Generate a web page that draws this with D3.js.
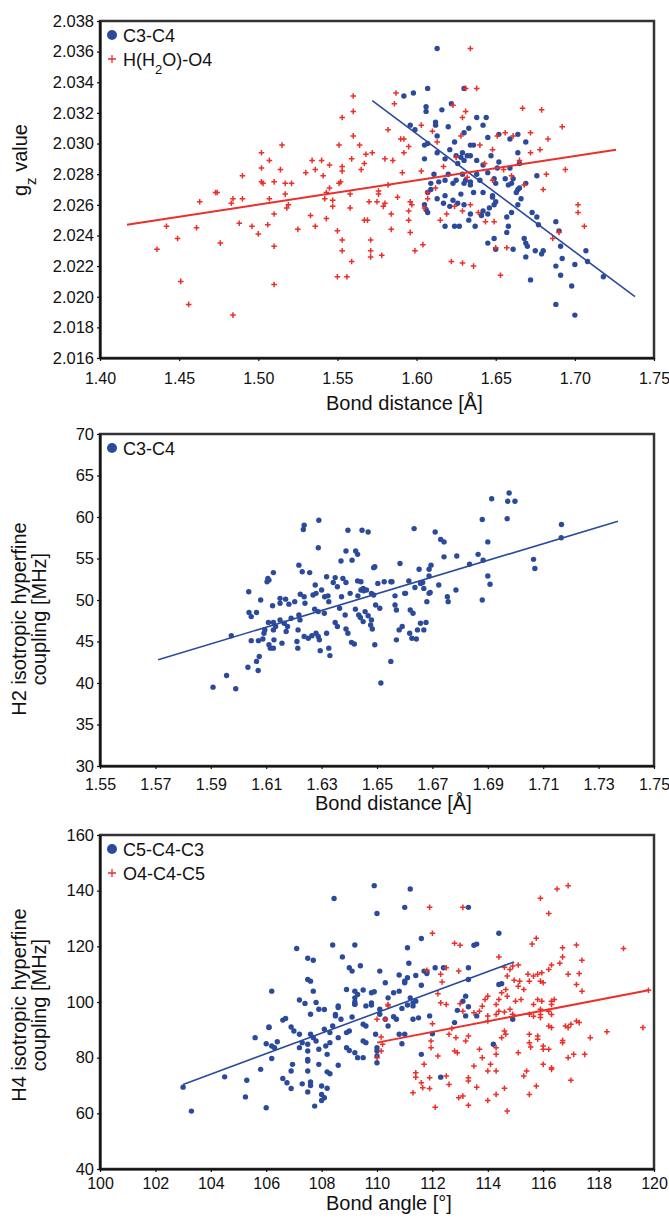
<!DOCTYPE html>
<html>
<head>
<meta charset="utf-8">
<script src="https://cdn.jsdelivr.net/npm/d3@7"></script>
<style>
  body { margin: 0; background: #fff; }
  text { font-family: Arial, "Liberation Sans", sans-serif; fill: #111; }
</style>
</head>
<body>
<div id="app"></div>
<script>
// ---- panel 1 : g_z value vs bond distance ----
const gzC3C4 = [[1.613,2.0362],[1.607,2.0336],[1.592,2.0331],[1.598,2.0333],[1.630,2.0336],[1.622,2.0326],[1.606,2.0324],[1.606,2.0321],[1.616,2.0322],[1.638,2.0317],[1.644,2.0317],[1.596,2.0312],[1.599,2.0309],[1.612,2.0314],[1.612,2.0312],[1.620,2.0311],[1.642,2.0312],[1.633,2.0310],[1.630,2.0307],[1.613,2.0305],[1.607,2.0300],[1.605,2.0299],[1.624,2.0301],[1.634,2.0299],[1.636,2.0299],[1.645,2.0304],[1.652,2.0306],[1.659,2.0303],[1.664,2.0306],[1.669,2.0301],[1.664,2.0294],[1.621,2.0296],[1.629,2.0294],[1.625,2.0292],[1.628,2.0291],[1.632,2.0292],[1.630,2.0289],[1.626,2.0287],[1.613,2.0294],[1.605,2.0290],[1.618,2.0290],[1.634,2.0292],[1.638,2.0289],[1.647,2.0292],[1.652,2.0288],[1.651,2.0284],[1.642,2.0286],[1.659,2.0284],[1.665,2.0287],[1.676,2.0279],[1.611,2.0280],[1.620,2.0280],[1.629,2.0280],[1.638,2.0280],[1.645,2.0281],[1.625,2.0276],[1.618,2.0276],[1.631,2.0276],[1.634,2.0273],[1.640,2.0276],[1.649,2.0277],[1.656,2.0277],[1.661,2.0277],[1.660,2.0274],[1.664,2.0270],[1.609,2.0270],[1.607,2.0268],[1.618,2.0266],[1.628,2.0267],[1.636,2.0268],[1.642,2.0268],[1.648,2.0266],[1.609,2.0274],[1.614,2.0275],[1.623,2.0274],[1.630,2.0274],[1.634,2.0275],[1.650,2.0274],[1.658,2.0273],[1.665,2.0271],[1.669,2.0274],[1.605,2.0260],[1.606,2.0257],[1.607,2.0255],[1.613,2.0264],[1.617,2.0261],[1.621,2.0259],[1.623,2.0263],[1.626,2.0261],[1.630,2.0260],[1.618,2.0246],[1.624,2.0246],[1.627,2.0246],[1.633,2.0250],[1.634,2.0254],[1.637,2.0246],[1.641,2.0253],[1.642,2.0256],[1.645,2.0254],[1.646,2.0258],[1.649,2.0260],[1.648,2.0265],[1.650,2.0262],[1.645,2.0235],[1.649,2.0238],[1.650,2.0231],[1.657,2.0252],[1.660,2.0255],[1.664,2.0260],[1.666,2.0264],[1.663,2.0268],[1.657,2.0242],[1.658,2.0246],[1.661,2.0231],[1.668,2.0238],[1.669,2.0235],[1.670,2.0233],[1.669,2.0226],[1.675,2.0230],[1.680,2.0230],[1.672,2.0211],[1.679,2.0228],[1.673,2.0255],[1.676,2.0252],[1.677,2.0247],[1.688,2.0220],[1.691,2.0214],[1.692,2.0225],[1.688,2.0249],[1.690,2.0243],[1.691,2.0233],[1.700,2.0221],[1.698,2.0207],[1.700,2.0188],[1.688,2.0195],[1.707,2.0230],[1.708,2.0223],[1.718,2.0213]];

const gzH2OO4 = [[1.634,2.0362],[1.587,2.0333],[1.560,2.0331],[1.631,2.0336],[1.638,2.0336],[1.586,2.0326],[1.560,2.0321],[1.623,2.0325],[1.667,2.0323],[1.679,2.0322],[1.631,2.0321],[1.553,2.0317],[1.629,2.0317],[1.692,2.0311],[1.582,2.0309],[1.603,2.0312],[1.560,2.0305],[1.590,2.0303],[1.592,2.0303],[1.651,2.0305],[1.683,2.0303],[1.672,2.0307],[1.656,2.0307],[1.661,2.0305],[1.515,2.0299],[1.551,2.0299],[1.564,2.0299],[1.595,2.0298],[1.613,2.0301],[1.502,2.0294],[1.568,2.0293],[1.572,2.0294],[1.592,2.0294],[1.672,2.0294],[1.678,2.0296],[1.507,2.0289],[1.534,2.0289],[1.540,2.0289],[1.559,2.0290],[1.567,2.0287],[1.580,2.0290],[1.585,2.0289],[1.545,2.0286],[1.553,2.0285],[1.536,2.0283],[1.514,2.0283],[1.502,2.0284],[1.694,2.0283],[1.490,2.0279],[1.591,2.0281],[1.565,2.0283],[1.553,2.0282],[1.530,2.0281],[1.541,2.0279],[1.603,2.0282],[1.682,2.0280],[1.503,2.0274],[1.510,2.0275],[1.517,2.0274],[1.521,2.0274],[1.552,2.0275],[1.582,2.0273],[1.576,2.0269],[1.474,2.0268],[1.610,2.0308],[1.628,2.0305],[1.640,2.0299],[1.648,2.0296],[1.625,2.0291],[1.643,2.0287],[1.655,2.0283],[1.665,2.0289],[1.660,2.0279],[1.617,2.0285],[1.632,2.0278],[1.648,2.0276],[1.612,2.0271],[1.668,2.0273],[1.680,2.0270],[1.622,2.0223],[1.629,2.0222],[1.636,2.0220],[1.653,2.0214],[1.650,2.0232],[1.657,2.0232],[1.702,2.0260],[1.702,2.0255],[1.706,2.0246],[1.686,2.0238],[1.690,2.0242],[1.6435,2.0249],[1.649,2.0249],[1.436,2.0231],[1.442,2.0246],[1.449,2.0238],[1.451,2.0210],[1.456,2.0195],[1.461,2.0245],[1.463,2.0262],[1.473,2.0268],[1.476,2.0235],[1.484,2.0188],[1.484,2.0264],[1.483,2.0261],[1.488,2.0248],[1.490,2.0264],[1.496,2.0246],[1.500,2.0241],[1.502,2.0275],[1.506,2.0247],[1.507,2.0264],[1.510,2.0233],[1.510,2.0208],[1.510,2.0254],[1.517,2.0267],[1.518,2.0258],[1.519,2.0260],[1.525,2.0244],[1.533,2.0253],[1.536,2.0246],[1.542,2.0264],[1.543,2.0268],[1.545,2.0271],[1.547,2.0263],[1.547,2.0259],[1.543,2.0251],[1.550,2.0243],[1.553,2.0237],[1.553,2.0230],[1.550,2.0213],[1.556,2.0213],[1.559,2.0223],[1.551,2.0274],[1.558,2.0267],[1.558,2.0258],[1.567,2.0250],[1.569,2.0250],[1.570,2.0262],[1.575,2.0262],[1.576,2.0267],[1.571,2.0237],[1.571,2.0230],[1.571,2.0226],[1.578,2.0227],[1.580,2.0261],[1.579,2.0259],[1.584,2.0254],[1.584,2.0244],[1.588,2.0265],[1.595,2.0256],[1.595,2.0250],[1.596,2.0242],[1.599,2.0230],[1.604,2.0234],[1.596,2.0262],[1.597,2.0260],[1.605,2.0258],[1.607,2.0264],[1.607,2.0268],[1.615,2.0250],[1.619,2.0254],[1.624,2.0259],[1.629,2.0256],[1.634,2.0260],[1.639,2.0255]];

const fitGzC3C4 = [[1.572,2.0328],[1.738,2.0200]];
const fitGzH2OO4 = [[1.417,2.0247],[1.726,2.0296]];
const gzTicks = [2.016,2.018,2.020,2.022,2.024,2.026,2.028,2.030,2.032,2.034,2.036,2.038];
const dist1Ticks = [1.40,1.45,1.50,1.55,1.60,1.65,1.70,1.75];

// ---- panel 2 : H2 isotropic hyperfine coupling vs bond distance ----
const h2C3C4 = [[1.6977,62.9],[1.6972,61.9],[1.6998,61.9],[1.6914,62.2],[1.697,59.8],[1.688,59.7],[1.7166,59.1],[1.7165,57.5],[1.6237,59.0],[1.6234,58.5],[1.629,59.6],[1.6395,58.4],[1.6446,58.4],[1.6468,58.2],[1.6634,58.6],[1.671,58.2],[1.673,57.3],[1.6742,57.0],[1.690,57.0],[1.6288,56.3],[1.6423,55.9],[1.643,55.5],[1.6388,55.9],[1.6788,55.3],[1.6742,55.2],[1.6865,55.5],[1.6883,54.8],[1.7065,54.9],[1.707,53.8],[1.690,52.9],[1.6908,51.9],[1.6218,54.2],[1.623,53.4],[1.6257,53.3],[1.6126,53.3],[1.6106,52.6],[1.611,52.4],[1.6318,52.8],[1.6349,52.7],[1.637,54.7],[1.641,54.8],[1.6492,54.0],[1.6488,53.9],[1.6583,54.4],[1.6652,53.7],[1.6688,53.7],[1.6695,54.2],[1.6834,54.3],[1.6688,52.9],[1.6277,51.8],[1.630,51.2],[1.6342,52.1],[1.6377,52.6],[1.643,52.3],[1.6442,51.2],[1.6452,51.1],[1.648,50.8],[1.6503,52.0],[1.655,52.2],[1.6615,52.3],[1.6637,51.5],[1.6665,52.1],[1.6692,50.9],[1.6723,51.8],[1.6785,51.2],[1.688,50.0],[1.6037,51.0],[1.6223,50.7],[1.6237,50.4],[1.6269,50.6],[1.6311,50.4],[1.6372,50.4],[1.615,50.2],[1.617,50.1],[1.6757,49.8],[1.6038,48.5],[1.6046,48.0],[1.6065,48.5],[1.6103,52.2],[1.608,50.0],[1.6123,49.3],[1.615,49.6],[1.6182,49.5],[1.6203,49.8],[1.624,49.6],[1.628,50.8],[1.6326,49.8],[1.6422,48.9],[1.6488,50.6],[1.6495,49.4],[1.651,49.0],[1.6565,50.5],[1.6565,49.4],[1.657,48.8],[1.660,50.8],[1.662,48.8],[1.663,48.4],[1.6657,52.0],[1.6669,51.4],[1.668,49.8],[1.6688,50.8],[1.6754,50.4],[1.6357,51.6],[1.6388,52.1],[1.6403,50.8],[1.6431,50.5],[1.6442,52.2],[1.645,51.4],[1.6462,51.2],[1.6526,52.2],[1.6554,52.2],[1.6603,50.8],[1.6323,50.5],[1.6108,47.3],[1.6126,47.3],[1.6072,45.1],[1.6088,45.3],[1.6095,46.4],[1.6092,46.0],[1.611,44.6],[1.6115,44.2],[1.6126,46.4],[1.6134,46.8],[1.6126,44.2],[1.6128,45.2],[1.615,47.6],[1.6165,47.2],[1.6157,44.8],[1.6172,46.2],[1.6177,46.8],[1.619,47.8],[1.6218,48.2],[1.6222,47.6],[1.6215,46.4],[1.6211,45.0],[1.6214,44.2],[1.6237,45.6],[1.6252,45.4],[1.6265,45.7],[1.628,46.0],[1.6288,45.6],[1.6292,45.2],[1.6295,43.9],[1.6275,48.9],[1.6288,48.6],[1.631,48.4],[1.6318,46.0],[1.6326,44.2],[1.633,43.3],[1.6349,47.3],[1.6357,46.8],[1.6365,49.0],[1.6385,48.2],[1.6408,44.9],[1.6418,44.7],[1.6388,46.5],[1.6395,46.0],[1.6434,48.2],[1.644,47.9],[1.645,47.4],[1.6457,48.6],[1.6468,48.1],[1.648,47.6],[1.6477,47.0],[1.6483,46.5],[1.6492,44.6],[1.6514,40.0],[1.655,42.6],[1.657,45.2],[1.658,46.4],[1.6591,46.8],[1.6618,46.0],[1.6626,45.4],[1.6642,45.3],[1.6646,46.4],[1.6657,47.2],[1.6669,46.4],[1.6677,47.3],[1.6034,41.9],[1.6065,42.6],[1.6071,41.5],[1.6075,43.2],[1.6046,45.1],[1.5974,45.7],[1.5908,39.5],[1.5957,40.9],[1.599,39.3]];

const fitH2C3C4 = [[1.571,42.8],[1.737,59.5]];
const h2Ticks = [30,35,40,45,50,55,60,65,70];
const dist2Ticks = [1.55,1.57,1.59,1.61,1.63,1.65,1.67,1.69,1.71,1.73,1.75];

// ---- panel 3 : H4 isotropic hyperfine coupling vs bond angle ----
const h4C5C4C3 = [[109.9,141.8],[111.2,140.6],[108.45,137.2],[111.0,134.0],[110.0,131.8],[113.3,134.0],[114.4,124.7],[107.1,119.2],[108.4,120.5],[109.2,120.5],[111.1,119.5],[111.6,122.8],[113.6,120.8],[113.5,120.4],[107.5,115.7],[107.7,115.0],[108.75,116.2],[111.15,113.9],[109.4,113.0],[109.0,112.3],[109.1,111.1],[110.1,111.1],[110.8,109.7],[111.1,108.7],[111.4,109.5],[111.7,111.1],[111.8,110.9],[111.8,110.2],[112.1,112.3],[112.4,112.3],[113.3,112.3],[113.3,108.1],[114.5,106.6],[107.5,108.1],[107.6,107.5],[107.7,103.9],[107.2,100.7],[107.4,99.5],[106.2,103.9],[108.1,97.3],[108.6,98.6],[108.5,95.5],[108.9,104.5],[109.2,103.9],[109.3,102.7],[109.2,101.5],[109.2,100.0],[109.2,99.2],[109.5,104.3],[109.8,103.3],[109.9,103.7],[109.8,99.7],[109.8,98.9],[110.3,106.9],[110.4,101.5],[110.6,103.3],[110.8,103.9],[111.0,106.9],[111.0,107.5],[111.2,101.5],[111.1,98.9],[111.3,99.7],[111.4,100.3],[111.6,106.0],[113.1,100.3],[113.2,102.1],[113.3,98.3],[114.4,106.3],[103.0,69.4],[103.3,60.8],[104.5,73.1],[105.3,71.9],[105.25,65.9],[105.6,87.2],[105.8,75.8],[106.0,62.0],[106.1,91.0],[106.1,90.8],[106.0,85.0],[106.2,84.2],[106.3,83.6],[106.2,79.7],[106.6,93.5],[106.7,94.1],[106.6,72.5],[106.75,71.0],[106.9,68.9],[106.9,91.0],[107.0,89.6],[107.2,88.4],[106.95,77.6],[106.9,75.2],[106.4,85.7],[107.2,83.6],[107.3,85.4],[107.5,82.4],[107.5,84.8],[107.5,79.4],[107.5,78.8],[107.5,75.2],[107.5,67.7],[107.6,71.3],[107.6,70.0],[107.75,62.6],[107.3,70.6],[107.6,88.4],[107.7,87.2],[107.8,86.0],[107.6,95.6],[107.8,99.8],[107.9,97.4],[107.9,77.6],[107.9,83.0],[108.0,69.8],[108.0,66.8],[108.1,65.6],[108.0,64.6],[108.2,74.9],[108.3,74.2],[108.2,69.0],[108.15,84.2],[108.3,85.4],[108.2,81.2],[108.1,90.2],[108.4,91.4],[108.3,89.0],[108.6,87.2],[108.6,77.3],[108.5,95.0],[108.6,98.0],[108.7,93.8],[108.9,89.0],[109.0,89.6],[108.9,83.6],[109.0,82.6],[109.2,81.8],[109.1,94.6],[109.2,99.2],[109.3,80.0],[109.5,80.0],[109.5,86.0],[109.6,85.4],[109.5,92.0],[109.6,91.4],[109.6,98.6],[109.95,88.4],[110.0,83.6],[110.0,82.4],[110.0,80.6],[110.0,78.2],[110.1,95.6],[110.1,97.4],[110.3,93.8],[110.4,91.4],[110.6,94.7],[110.7,93.8],[110.8,88.4],[111.0,88.4],[110.9,85.0],[110.9,97.7],[111.3,98.6],[111.3,93.8],[111.5,94.3],[111.9,95.0],[111.6,81.2],[112.0,88.6],[112.3,73.0],[112.9,97.0],[113.2,95.0],[112.8,92.6],[114.2,84.8],[114.9,93.8],[113.6,95.0]];

const h4O4C4C5 = [[116.5,140.6],[116.9,141.8],[115.9,137.3],[116.2,131.8],[111.9,134.0],[113.1,134.0],[112.0,124.7],[112.8,121.1],[113.0,120.4],[118.9,119.2],[115.6,120.8],[115.75,122.9],[116.7,119.5],[117.2,120.5],[117.4,115.0],[116.7,116.2],[114.4,116.2],[112.95,111.1],[112.5,112.3],[111.8,111.4],[112.3,110.0],[112.35,107.2],[114.6,112.5],[114.8,111.7],[114.9,112.9],[115.1,113.3],[114.7,109.3],[114.95,107.8],[115.15,107.5],[115.45,110.0],[115.65,109.3],[115.8,110.0],[115.95,110.5],[116.2,111.7],[115.9,107.5],[116.0,106.9],[116.3,113.3],[116.6,113.9],[116.9,110.0],[117.3,110.2],[117.2,106.3],[117.4,103.9],[115.1,105.7],[115.3,104.5],[115.5,107.5],[112.2,103.0],[112.3,99.7],[112.5,99.1],[113.0,99.4],[113.1,96.7],[113.5,96.1],[113.7,96.7],[113.8,98.5],[113.9,100.9],[114.0,102.1],[114.3,99.1],[114.4,100.9],[114.7,102.1],[115.0,100.3],[115.2,100.9],[114.3,95.5],[114.4,96.7],[114.6,96.4],[115.65,99.1],[115.8,100.9],[115.95,100.3],[116.3,100.3],[116.4,100.9],[116.3,99.1],[116.2,96.7],[114.5,103.3],[114.65,104.5],[115.65,94.9],[115.9,95.5],[116.3,95.5],[119.8,104.2],[110.4,99.1],[110.0,93.8],[110.3,93.8],[110.15,87.4],[110.2,84.8],[110.0,80.0],[110.15,82.4],[110.4,98.6],[111.4,74.6],[111.4,73.0],[111.3,67.4],[111.6,71.0],[111.65,69.2],[111.7,77.6],[112.0,92.2],[111.95,86.0],[111.95,83.6],[111.9,72.8],[111.9,68.9],[112.1,62.2],[112.2,80.6],[112.5,73.4],[112.6,70.4],[112.6,88.4],[112.7,90.5],[112.8,82.4],[112.9,81.8],[112.85,87.2],[112.95,65.6],[113.1,66.2],[113.3,62.9],[113.3,87.8],[113.2,86.0],[113.3,72.8],[113.3,71.6],[113.5,77.0],[113.6,69.4],[113.7,83.0],[113.8,80.0],[114.0,93.2],[114.0,95.0],[114.0,64.6],[114.1,77.6],[114.0,75.2],[114.3,83.6],[114.3,81.2],[114.3,66.8],[114.3,75.2],[114.6,89.6],[114.65,88.4],[114.5,87.2],[114.6,69.0],[114.7,60.8],[114.8,97.4],[114.9,95.6],[115.1,81.8],[115.3,73.4],[115.4,75.2],[115.5,88.4],[115.5,85.4],[115.55,83.8],[115.5,66.8],[115.8,87.8],[115.8,86.6],[115.75,69.8],[115.9,97.4],[115.9,94.4],[116.0,84.2],[116.0,83.0],[116.0,77.6],[116.2,91.4],[116.3,90.8],[116.2,83.0],[116.3,76.4],[116.3,75.8],[116.7,85.4],[116.7,86.2],[116.8,91.4],[116.9,90.8],[117.0,92.0],[117.2,93.2],[117.3,92.6],[116.9,80.0],[117.1,81.2],[117.0,71.9],[117.5,81.2],[117.7,87.2],[118.3,89.3],[119.6,90.8],[115.5,95.6]];

const fitH4C5C4C3 = [[103.0,70.4],[114.95,114.4]];
const fitH4O4C4C5 = [[110.0,85.4],[119.8,104.2]];
const h4Ticks = [40,60,80,100,120,140,160];
const angleTicks = [100,102,104,106,108,110,112,114,116,118,120];

const blue = '#2b4a9c';
const red = '#ec2f28';
const left = 100, right = 654;

const svg = d3.select('#app')
  .append('svg')
  .attr('width', 669)
  .attr('height', 1223);

const plus = 'M-2.8,0H2.8M0,-2.8V2.8';

function panel(o) {
  const x = d3.scaleLinear().domain(o.xDomain).range([left, right]);
  const y = d3.scaleLinear().domain(o.yDomain).range([o.bottom, o.top]);
  const g = svg.append('g');

  // frame (top/right)
  g.append('rect')
    .attr('x', left).attr('y', o.top)
    .attr('width', right - left).attr('height', o.bottom - o.top)
    .attr('fill', 'none').attr('stroke', '#333').attr('stroke-width', 2.5);

  const line = d3.line().x(d => x(d[0])).y(d => y(d[1]));

  o.series.forEach(s => {
    if (s.shape === 'dot') {
      g.append('g').selectAll('circle')
        .data(s.data).enter().append('circle')
        .attr('cx', d => x(d[0])).attr('cy', d => y(d[1]))
        .attr('r', 2.7).attr('fill', s.color);
    } else {
      g.append('g').selectAll('path')
        .data(s.data).enter().append('path')
        .attr('d', plus)
        .attr('transform', d => `translate(${x(d[0])},${y(d[1])})`)
        .attr('stroke', s.color).attr('stroke-width', 1.5);
    }
  });
  o.series.forEach(s => {
    g.append('path').datum(s.fit)
      .attr('d', line).attr('fill', 'none')
      .attr('stroke', s.color).attr('stroke-width', s.shape === 'dot' ? 1.6 : 2);
  });

  // axes
  const ax = g.append('g')
    .attr('transform', `translate(0,${o.bottom})`)
    .call(d3.axisBottom(x).tickValues(o.xTicks).tickFormat(o.xFormat).tickSize(3).tickSizeOuter(0));
  ax.selectAll('text').attr('dy', null).attr('y', o.xLabelY).style('font-size', '16px');
  const ay = g.append('g')
    .attr('transform', `translate(${left},0)`)
    .call(d3.axisLeft(y).tickValues(o.yTicks).tickFormat(o.yFormat).tickSize(3).tickSizeOuter(0));
  ay.selectAll('text').attr('x', -6).style('font-size', '16.5px');
  [ax, ay].forEach(a => {
    a.select('.domain').attr('stroke', '#111').attr('stroke-width', 2.2);
    a.selectAll('.tick line').attr('stroke', '#111').attr('stroke-width', 1.2);
    a.selectAll('text').attr('fill', '#111').style('font-family', 'Arial, "Liberation Sans", sans-serif');
  });

  // x title
  g.append('text')
    .attr('x', o.xTitleX).attr('y', o.xTitleY)
    .style('font-size', '20px')
    .text(o.xTitle);

  // y title
  const yt = g.append('text')
    .attr('transform', `translate(0,${o.yTitleY}) rotate(-90)`)
    .attr('text-anchor', 'middle')
    .style('font-size', '20px');
  o.yTitle(yt);

  // legend
  o.series.forEach((s, i) => {
    const ly = o.top + 14 + i * 24;
    if (s.shape === 'dot') {
      g.append('circle').attr('cx', 112).attr('cy', ly).attr('r', 5).attr('fill', s.color);
    } else {
      g.append('path').attr('d', 'M-4,0H4M0,-4V4')
        .attr('transform', `translate(112,${ly})`)
        .attr('stroke', s.color).attr('stroke-width', 1.3);
    }
    const t = g.append('text').attr('x', 123).attr('y', ly + 6.5).style('font-size', '18px');
    s.label(t);
  });
}

panel({
  xDomain: [1.40, 1.75], yDomain: [2.016, 2.038], top: 21, bottom: 358,
  xTicks: dist1Ticks, yTicks: gzTicks,
  xFormat: d3.format('.2f'), yFormat: d3.format('.3f'),
  xLabelY: 26, xTitle: 'Bond distance [Å]', xTitleX: 326, xTitleY: 410,
  yTitleY: 160,
  yTitle: t => {
    t.append('tspan').attr('x', 0).attr('y', 27).text('g');
    t.append('tspan').attr('baseline-shift', 'sub').style('font-size', '15px').text('z');
    t.append('tspan').text(' value');
  },
  series: [
    { shape: 'dot', color: blue, data: gzC3C4, fit: fitGzC3C4, label: t => t.text('C3-C4') },
    { shape: 'plus', color: red, data: gzH2OO4, fit: fitGzH2OO4, label: t => {
      t.append('tspan').text('H(H');
      t.append('tspan').attr('baseline-shift', 'sub').style('font-size', '13px').text('2');
      t.append('tspan').text('O)-O4');
    } }
  ]
});

panel({
  xDomain: [1.55, 1.75], yDomain: [30, 70], top: 434, bottom: 766,
  xTicks: dist2Ticks, yTicks: h2Ticks,
  xFormat: d3.format('.2f'), yFormat: d3.format('d'),
  xLabelY: 24, xTitle: 'Bond distance [Å]', xTitleX: 315, xTitleY: 810,
  yTitleY: 619,
  yTitle: t => {
    t.append('tspan').attr('x', 0).attr('y', 26).text('H2 isotropic hyperfine');
    t.append('tspan').attr('x', 0).attr('y', 46).text('coupling [MHz]');
  },
  series: [
    { shape: 'dot', color: blue, data: h2C3C4, fit: fitH2C3C4, label: t => t.text('C3-C4') }
  ]
});

panel({
  xDomain: [100, 120], yDomain: [40, 160], top: 835, bottom: 1169,
  xTicks: angleTicks, yTicks: h4Ticks,
  xFormat: d3.format('d'), yFormat: d3.format('d'),
  xLabelY: 20, xTitle: 'Bond angle [°]', xTitleX: 326, xTitleY: 1210,
  yTitleY: 1005,
  yTitle: t => {
    t.append('tspan').attr('x', 0).attr('y', 26).text('H4 isotropic hyperfine');
    t.append('tspan').attr('x', 0).attr('y', 46).text('coupling [MHz]');
  },
  series: [
    { shape: 'dot', color: blue, data: h4C5C4C3, fit: fitH4C5C4C3, label: t => t.text('C5-C4-C3') },
    { shape: 'plus', color: red, data: h4O4C4C5, fit: fitH4O4C4C5, label: t => t.text('O4-C4-C5') }
  ]
});
</script>
</body>
</html>
